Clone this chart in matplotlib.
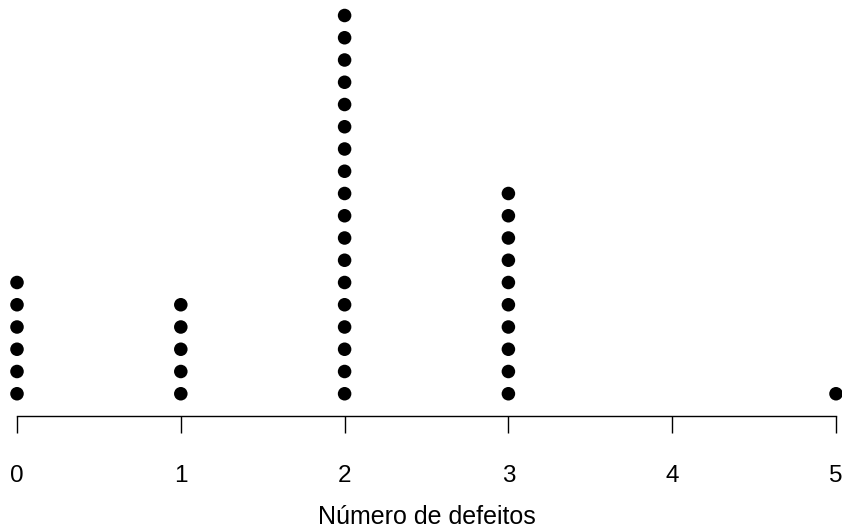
import matplotlib
matplotlib.use('Agg')
import matplotlib.pyplot as plt

# contagem de pecas por numero de defeitos
defeitos = [0, 1, 2, 3, 4, 5]
frequencia = [6, 5, 18, 10, 0, 1]

plt.rcParams['font.family'] = ['Liberation Sans', 'DejaVu Sans']

fig = plt.figure(figsize=(8.42, 5.30), dpi=100)
ax = fig.add_axes([17 / 842, 114 / 530, 819 / 842, 400.5 / 530])

for x, n in zip(defeitos, frequencia):
    if n == 0:
        continue
    ys = list(range(1, n + 1))
    ax.scatter([x] * n, ys, s=95, c='black', edgecolors='none', clip_on=False, zorder=3)

ax.set_xlim(0, 5)
ax.set_ylim(0, max(frequencia))
ax.set_xticks(defeitos)
ax.set_yticks([])
for side in ['top', 'right', 'left']:
    ax.spines[side].set_visible(False)
ax.spines['bottom'].set_bounds(0, 5)
ax.spines['bottom'].set_linewidth(1)
ax.tick_params(axis='x', length=12.5, width=1, pad=23, labelsize=17.5)
ax.set_xlabel('Número de defeitos', fontsize=18, labelpad=13)

fig.savefig('out.png', dpi=100)
